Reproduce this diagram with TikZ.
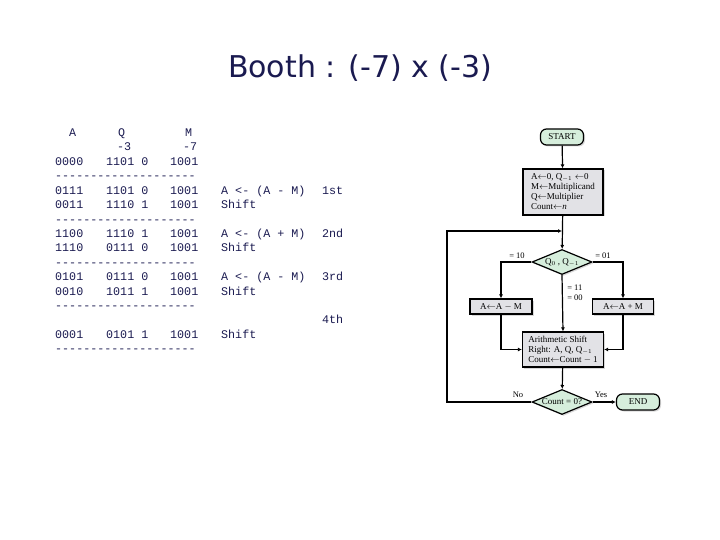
\documentclass[tikz,border=0pt]{standalone}
\usepackage{fontspec}
\setmainfont{Liberation Serif}
\newfontfamily\ttf{Liberation Mono}
\newfontfamily\ttl{DejaVu Sans}
\usetikzlibrary{shapes.geometric,arrows.meta,shadows}
\definecolor{ink}{HTML}{1A1A50}
\definecolor{gfill}{HTML}{D6EEDC}
\definecolor{bfill}{HTML}{E2E2E6}
\begin{document}
\begin{tikzpicture}[x=1pt,y=-1pt,
  tt/.style={font=\ttf\fontsize{11.7}{13}\selectfont,text=ink,anchor=base west,inner sep=0},
  fc/.style={draw=black,line width=1.2pt,font=\fontsize{9}{10}\selectfont,drop shadow={shadow xshift=1.5pt,shadow yshift=-1.5pt,fill=gray!60}},
  term/.style={fc,rounded corners=6pt,fill=gfill,minimum width=43pt,minimum height=16pt,inner sep=1pt},
  box/.style={fc,fill=bfill,align=left,inner sep=2pt},
  dia/.style={fc,diamond,aspect=2.4,fill=gfill,inner sep=0pt,minimum width=60pt,minimum height=25pt},
  lab/.style={font=\fontsize{8.5}{10}\selectfont,inner sep=1pt},
  ar/.style={line width=1.2pt,-{Latex[length=4pt,width=4pt]}}]
\useasboundingbox (0,0) rectangle (720,540);
\node[font=\ttl\fontsize{30}{34}\selectfont,text=ink] (title) at (360,68) {Booth : (-7) x (-3)};
% table
\node[tt] (hA) at (69,137) {A};
\node[tt] (hQ) at (118,137) {Q};
\node[tt] (hM) at (185,137) {M};
\node[tt] (q3) at (117,151) {-3};
\node[tt] (m7) at (183,151) {-7};
\foreach \i/\a/\q/\m/\c/\n in {0/0000/1101 0/1001//,2/0111/1101 0/1001/A <- (A - M)/1st,3/0011/1110 1/1001/Shift/,5/1100/1110 1/1001/A <- (A + M)/2nd,6/1110/0111 0/1001/Shift/,8/0101/0111 0/1001/A <- (A - M)/3rd,9/0010/1011 1/1001/Shift/,12/0001/0101 1/1001/Shift/}{
  \node[tt] (ra\i) at (55,165.5+14.4*\i) {\a};
  \node[tt] (rq\i) at (106,165.5+14.4*\i) {\q};
  \node[tt] (rm\i) at (170,165.5+14.4*\i) {\m};
  \node[tt] (rc\i) at (221,165.5+14.4*\i) {\c};
  \node[tt] (rn\i) at (322,165.5+14.4*\i) {\n};
}
\foreach \i in {1,4,7,10,13}{\node[tt] (d\i) at (55,165.5+14.4*\i) {--------------------};}
\node[tt] (r4th) at (322,165.5+14.4*11) {4th};
% flowchart
\node[term] (start) at (562,137) {START};
\node[box,minimum width=80pt,minimum height=46pt] (init) at (563,192) {A$\leftarrow$0, Q$_{-1}\leftarrow$0\\M$\leftarrow$Multiplicand\\Q$\leftarrow$Multiplier\\Count$\leftarrow$\textit{n}};
\coordinate (j) at (562,231);
\node[dia] (d1) at (562,262) {Q$_0$ , Q$_{-1}$};
\node[box,minimum width=62pt,minimum height=15pt,align=center] (sub) at (501,306.5) {A$\leftarrow$A $-$ M};
\node[box,minimum width=61pt,minimum height=15pt,align=center] (add) at (623,306.5) {A$\leftarrow$A + M};
\node[box,minimum width=81pt,minimum height=35pt] (sh) at (563,349.5) {Arithmetic Shift\\Right: A, Q, Q$_{-1}$\\Count$\leftarrow$Count $-$ 1};
\node[dia] (d2) at (562,402) {Count = 0?};
\node[term] (end) at (638,402) {END};
\coordinate (cl) at (447,231);
\draw[ar] (start) -- (init);
\draw[ar] (init) -- (d1);
\draw[ar] (d1.west) -| (sub.north);
\draw[ar] (d1.east) -| (add.north);
\draw[ar] (d1.south) -- (sh.north);
\draw[ar] (sub.south) |- (sh.west);
\draw[ar] (add.south) |- (sh.east);
\draw[ar] (sh) -- (d2);
\draw[ar] (d2.east) -- (end);
\draw[ar] (d2.west) -| (cl) -- (j);
\node[lab] (l10) at (517,256) {= 10};
\node[lab] (l01) at (603,256) {= 01};
\node[lab,align=left] (l11) at (575,293) {= 11\\= 00};
\node[lab] (lno) at (518,395) {No};
\node[lab] (lyes) at (601,395) {Yes};
\end{tikzpicture}
\end{document}
